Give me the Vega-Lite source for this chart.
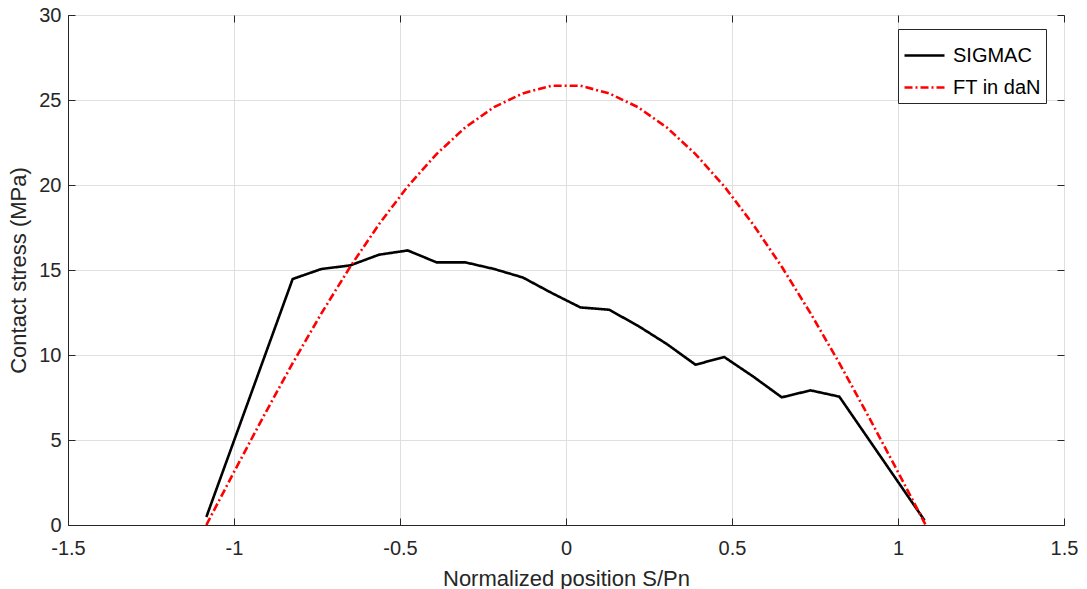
{
  "$schema": "https://vega.github.io/schema/vega-lite/v6.json",
  "autosize": {"type": "none"},
  "width": 996,
  "height": 510,
  "padding": {"left": 68, "top": 15, "right": 23, "bottom": 64},
  "background": "white",
  "config": {
    "font": "Liberation Sans",
    "view": {"stroke": "#262626", "strokeWidth": 1},
    "axis": {
      "domainColor": "#262626",
      "tickColor": "#262626",
      "labelColor": "#262626",
      "titleColor": "#262626",
      "labelFont": "Liberation Sans",
      "titleFont": "Liberation Sans",
      "labelFontSize": 20,
      "titleFontSize": 22,
      "titleFontWeight": "normal",
      "gridColor": "#dfdfdf",
      "gridWidth": 1,
      "tickSize": -7,
      "labelExpr": "'' + datum.value"
    }
  },
  "data": {
    "values": [
      {"s": -1.0833, "v": 0.47, "series": "SIGMAC"},
      {"s": -0.8233, "v": 14.47, "series": "SIGMAC"},
      {"s": -0.7367, "v": 15.06, "series": "SIGMAC"},
      {"s": -0.65, "v": 15.27, "series": "SIGMAC"},
      {"s": -0.5633, "v": 15.9, "series": "SIGMAC"},
      {"s": -0.4767, "v": 16.15, "series": "SIGMAC"},
      {"s": -0.39, "v": 15.45, "series": "SIGMAC"},
      {"s": -0.3033, "v": 15.45, "series": "SIGMAC"},
      {"s": -0.2167, "v": 15.06, "series": "SIGMAC"},
      {"s": -0.13, "v": 14.56, "series": "SIGMAC"},
      {"s": -0.0433, "v": 13.65, "series": "SIGMAC"},
      {"s": 0.0433, "v": 12.8, "series": "SIGMAC"},
      {"s": 0.13, "v": 12.66, "series": "SIGMAC"},
      {"s": 0.2167, "v": 11.72, "series": "SIGMAC"},
      {"s": 0.3033, "v": 10.65, "series": "SIGMAC"},
      {"s": 0.39, "v": 9.43, "series": "SIGMAC"},
      {"s": 0.4767, "v": 9.88, "series": "SIGMAC"},
      {"s": 0.5633, "v": 8.74, "series": "SIGMAC"},
      {"s": 0.65, "v": 7.51, "series": "SIGMAC"},
      {"s": 0.7367, "v": 7.92, "series": "SIGMAC"},
      {"s": 0.8233, "v": 7.55, "series": "SIGMAC"},
      {"s": 1.08, "v": 0.27, "series": "SIGMAC"},
      {"s": -1.0833, "v": 0.0, "series": "FT in daN"},
      {"s": -0.9967, "v": 3.24, "series": "FT in daN"},
      {"s": -0.91, "v": 6.43, "series": "FT in daN"},
      {"s": -0.8233, "v": 9.52, "series": "FT in daN"},
      {"s": -0.7367, "v": 12.45, "series": "FT in daN"},
      {"s": -0.65, "v": 15.19, "series": "FT in daN"},
      {"s": -0.5633, "v": 17.69, "series": "FT in daN"},
      {"s": -0.4767, "v": 19.92, "series": "FT in daN"},
      {"s": -0.39, "v": 21.82, "series": "FT in daN"},
      {"s": -0.3033, "v": 23.39, "series": "FT in daN"},
      {"s": -0.2167, "v": 24.58, "series": "FT in daN"},
      {"s": -0.13, "v": 25.39, "series": "FT in daN"},
      {"s": -0.0433, "v": 25.84, "series": "FT in daN"},
      {"s": 0.0433, "v": 25.84, "series": "FT in daN"},
      {"s": 0.13, "v": 25.39, "series": "FT in daN"},
      {"s": 0.2167, "v": 24.58, "series": "FT in daN"},
      {"s": 0.3033, "v": 23.39, "series": "FT in daN"},
      {"s": 0.39, "v": 21.82, "series": "FT in daN"},
      {"s": 0.4767, "v": 19.92, "series": "FT in daN"},
      {"s": 0.5633, "v": 17.69, "series": "FT in daN"},
      {"s": 0.65, "v": 15.19, "series": "FT in daN"},
      {"s": 0.7367, "v": 12.45, "series": "FT in daN"},
      {"s": 0.8233, "v": 9.52, "series": "FT in daN"},
      {"s": 0.91, "v": 6.43, "series": "FT in daN"},
      {"s": 0.9967, "v": 3.24, "series": "FT in daN"},
      {"s": 1.0833, "v": 0.0, "series": "FT in daN"}
    ]
  },
  "layer": [
    {
      "mark": {"type": "line", "strokeWidth": 2.6, "clip": true},
      "encoding": {
        "x": {
          "field": "s", "type": "quantitative",
          "scale": {"domain": [-1.5, 1.5], "nice": false, "zero": false},
          "axis": {"title": "Normalized position S/Pn", "values": [-1.5, -1, -0.5, 0, 0.5, 1, 1.5], "labelPadding": 20, "titlePadding": 10, "labelFlush": false}
        },
        "y": {
          "field": "v", "type": "quantitative",
          "scale": {"domain": [0, 30], "nice": false},
          "axis": {"title": "Contact stress (MPa)", "values": [0, 5, 10, 15, 20, 25, 30], "labelPadding": 14, "titlePadding": 8, "labelFlush": false}
        },
        "color": {
          "field": "series", "type": "nominal",
          "scale": {"domain": ["SIGMAC", "FT in daN"], "range": ["#000000", "#ff0000"]},
          "legend": {
            "title": null,
            "orient": "none",
            "legendX": 830,
            "legendY": 14,
            "symbolType": "stroke",
            "symbolSize": 1600,
            "symbolStrokeWidth": 2.6,
            "labelFontSize": 20,
            "labelColor": "#000000",
            "labelFont": "Liberation Sans",
            "strokeColor": "#262626",
            "fillColor": "white",
            "padding": 5,
            "rowPadding": 0,
            "labelOffset": 7,
            "labelLimit": 300
          }
        },
        "strokeDash": {
          "field": "series", "type": "nominal",
          "scale": {"domain": ["SIGMAC", "FT in daN"], "range": [[1, 0], [8, 3, 2, 3]]},
          "legend": null
        }
      }
    },
    {
      "mark": {"type": "line", "opacity": 0},
      "encoding": {
        "x": {
          "field": "s", "type": "quantitative",
          "scale": {"domain": [-1.5, 1.5], "nice": false, "zero": false},
          "axis": {"orient": "top", "title": null, "labels": false, "grid": false, "domain": false, "values": [-1.5, -1, -0.5, 0, 0.5, 1, 1.5]}
        },
        "y": {
          "field": "v", "type": "quantitative",
          "scale": {"domain": [0, 30], "nice": false},
          "axis": {"orient": "right", "title": null, "labels": false, "grid": false, "domain": false, "values": [0, 5, 10, 15, 20, 25, 30]}
        }
      }
    }
  ],
  "resolve": {"axis": {"x": "independent", "y": "independent"}}
}
